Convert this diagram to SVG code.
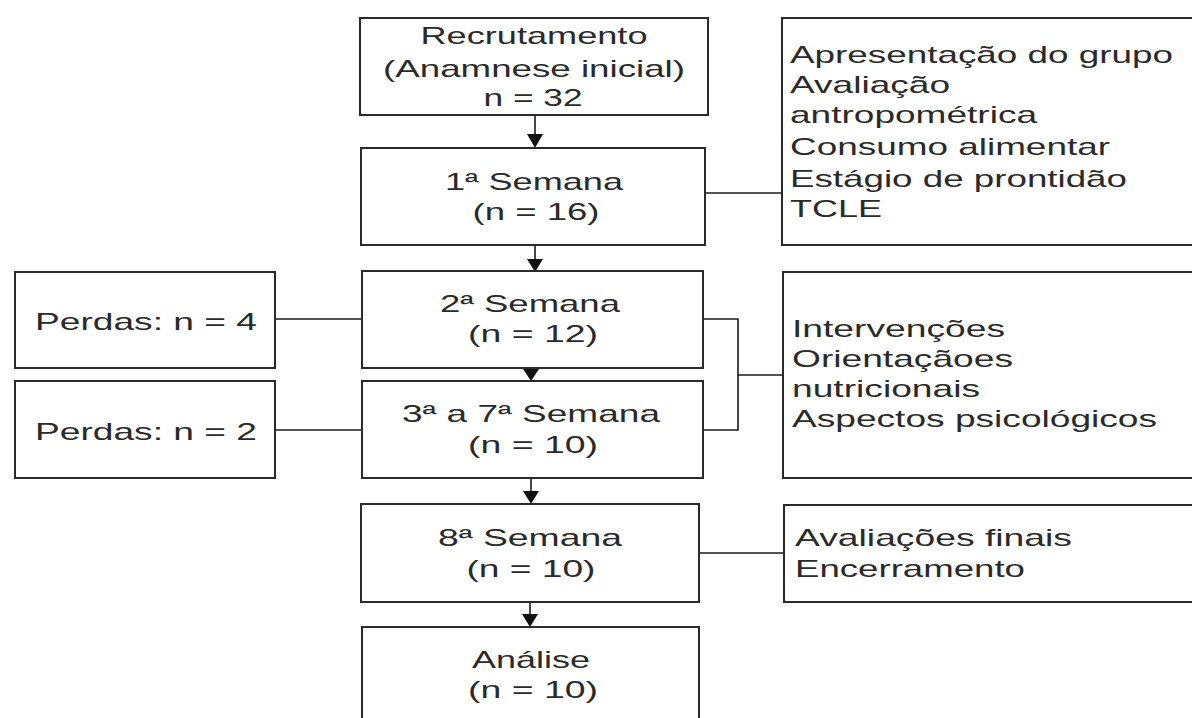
<svg xmlns="http://www.w3.org/2000/svg" width="1192" height="718" viewBox="0 0 1192 718">
<style>
.box{fill:#fff;stroke:#2a2a2a;stroke-width:2}
.t{font-family:"Liberation Sans",Arial,sans-serif;font-size:24px;fill:#2a2a2a}
.c{text-anchor:middle}
.ln{fill:none;stroke:#1a1a1a;stroke-width:1.6}
.ah{fill:#111}
</style>
<rect width="1192" height="718" fill="#fff"/>
<g id="connectors">
<line class="ln" x1="535" y1="115" x2="535" y2="136"/><polygon class="ah" points="527,134 543,134 535,148"/>
<line class="ln" x1="535" y1="245" x2="535" y2="260"/><polygon class="ah" points="527,259 543,259 535,272"/>
<line class="ln" x1="531" y1="368" x2="531" y2="372"/><polygon class="ah" points="523,369 539,369 531,381"/>
<line class="ln" x1="531" y1="478" x2="531" y2="492"/><polygon class="ah" points="523,491 539,491 531,504"/>
<line class="ln" x1="530" y1="602" x2="530" y2="615"/><polygon class="ah" points="522,614 538,614 530,627"/>
<line class="ln" x1="705" y1="193" x2="782" y2="193"/>
<line class="ln" x1="275" y1="319" x2="362" y2="319"/>
<line class="ln" x1="275" y1="430" x2="362" y2="430"/>
<polyline class="ln" points="703,319 738,319 738,430 703,430"/>
<line class="ln" x1="738" y1="375" x2="783" y2="375"/>
<line class="ln" x1="699" y1="553" x2="784" y2="553"/>
</g>
<g id="recrutamento">
<rect class="box" x="360" y="18" width="348" height="97"/>
<text class="t c" x="534" y="44" textLength="227" lengthAdjust="spacingAndGlyphs">Recrutamento</text>
<text class="t c" x="534" y="77" textLength="302" lengthAdjust="spacingAndGlyphs">(Anamnese inicial)</text>
<text class="t c" x="533" y="106" textLength="99" lengthAdjust="spacingAndGlyphs">n = 32</text>
</g>
<g id="semana1">
<rect class="box" x="361" y="148" width="344" height="97"/>
<text class="t c" x="534" y="190" textLength="178" lengthAdjust="spacingAndGlyphs">1ª Semana</text>
<text class="t c" x="536" y="220" textLength="127" lengthAdjust="spacingAndGlyphs">(n = 16)</text>
</g>
<g id="info1">
<rect class="box" x="782" y="18" width="430" height="227"/>
<text class="t" x="790" y="63" textLength="383" lengthAdjust="spacingAndGlyphs">Apresentação do grupo</text>
<text class="t" x="790" y="93" textLength="160" lengthAdjust="spacingAndGlyphs">Avaliação</text>
<text class="t" x="790" y="123" textLength="247" lengthAdjust="spacingAndGlyphs">antropométrica</text>
<text class="t" x="790" y="155" textLength="320" lengthAdjust="spacingAndGlyphs">Consumo alimentar</text>
<text class="t" x="790" y="187" textLength="337" lengthAdjust="spacingAndGlyphs">Estágio de prontidão</text>
<text class="t" x="790" y="217" textLength="92" lengthAdjust="spacingAndGlyphs">TCLE</text>
</g>
<g id="perdas1">
<rect class="box" x="15" y="272" width="260" height="96"/>
<text class="t" x="35" y="330" textLength="222" lengthAdjust="spacingAndGlyphs">Perdas: n = 4</text>
</g>
<g id="perdas2">
<rect class="box" x="15" y="381" width="260" height="97"/>
<text class="t" x="35" y="440" textLength="222" lengthAdjust="spacingAndGlyphs">Perdas: n = 2</text>
</g>
<g id="semana2">
<rect class="box" x="362" y="271" width="341" height="97"/>
<text class="t c" x="530" y="312" textLength="180" lengthAdjust="spacingAndGlyphs">2ª Semana</text>
<text class="t c" x="533" y="342" textLength="130" lengthAdjust="spacingAndGlyphs">(n = 12)</text>
</g>
<g id="semana3a7">
<rect class="box" x="362" y="381" width="341" height="97"/>
<text class="t c" x="531" y="422" textLength="258" lengthAdjust="spacingAndGlyphs">3ª a 7ª Semana</text>
<text class="t c" x="533" y="453" textLength="130" lengthAdjust="spacingAndGlyphs">(n = 10)</text>
</g>
<g id="info2">
<rect class="box" x="783" y="272" width="430" height="206"/>
<text class="t" x="792" y="337" textLength="213" lengthAdjust="spacingAndGlyphs">Intervenções</text>
<text class="t" x="792" y="367" textLength="221" lengthAdjust="spacingAndGlyphs">Orientaçãoes</text>
<text class="t" x="792" y="397" textLength="188" lengthAdjust="spacingAndGlyphs">nutricionais</text>
<text class="t" x="792" y="427" textLength="365" lengthAdjust="spacingAndGlyphs">Aspectos psicológicos</text>
</g>
<g id="semana8">
<rect class="box" x="361" y="504" width="338" height="98"/>
<text class="t c" x="530" y="546" textLength="184" lengthAdjust="spacingAndGlyphs">8ª Semana</text>
<text class="t c" x="531" y="577" textLength="129" lengthAdjust="spacingAndGlyphs">(n = 10)</text>
</g>
<g id="info3">
<rect class="box" x="784" y="505" width="430" height="97"/>
<text class="t" x="795" y="546" textLength="277" lengthAdjust="spacingAndGlyphs">Avaliações finais</text>
<text class="t" x="795" y="577" textLength="230" lengthAdjust="spacingAndGlyphs">Encerramento</text>
</g>
<g id="analise">
<rect class="box" x="362" y="627" width="337" height="110"/>
<text class="t c" x="531" y="668" textLength="118" lengthAdjust="spacingAndGlyphs">Análise</text>
<text class="t c" x="533" y="698" textLength="130" lengthAdjust="spacingAndGlyphs">(n = 10)</text>
</g>
</svg>
